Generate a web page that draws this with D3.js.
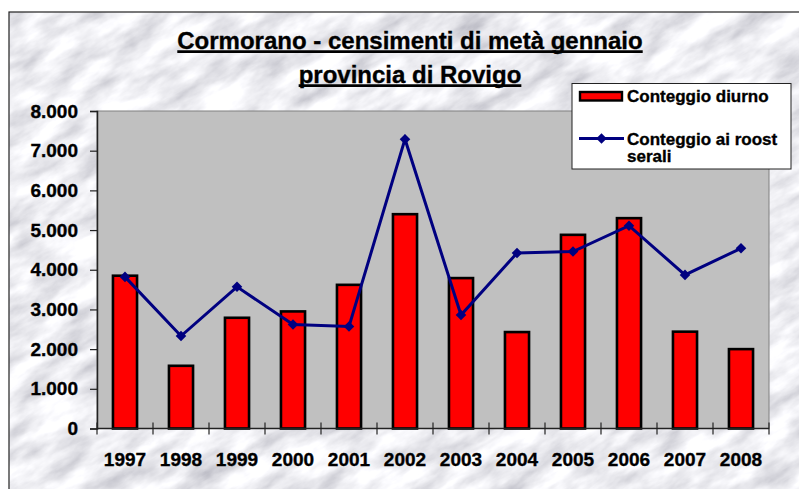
<!DOCTYPE html>
<html>
<head>
<meta charset="utf-8">
<script src="https://cdn.jsdelivr.net/npm/d3@7"></script>
<style>
  html, body { margin: 0; padding: 0; background: #fff; }
  svg { display: block; font-family: Arial, "Liberation Sans", sans-serif; }
  svg text { stroke: #000; stroke-width: 0.35px; }
</style>
</head>
<body>
<script>
var width = 799
var height = 489

// data
var years = ['1997', '1998', '1999', '2000', '2001', '2002', '2003', '2004', '2005', '2006', '2007', '2008']
var diurno = [3850, 1580, 2790, 2950, 3620, 5400, 3790, 2430, 4880, 5300, 2440, 2000]
var roost = [3820, 2330, 3570, 2620, 2570, 7290, 2860, 4420, 4460, 5110, 3870, 4540]
var yTicks = [0, 1000, 2000, 3000, 4000, 5000, 6000, 7000, 8000]
var titleLines = ['Cormorano - censimenti di metà gennaio', 'provincia di Rovigo']
var legendLabels = ['Conteggio diurno', 'Conteggio ai roost', 'serali']

var it = d3.formatLocale({ decimal: ',', thousands: '.', grouping: [3], currency: ['', ' €'] })
var fmt = it.format(',d')

var svg = d3.select('body').append('svg').attr('width', width).attr('height', height)

// marble background
var defs = svg.append('defs')
var filter = defs.append('filter')
    .attr('id', 'marble')
    .attr('filterUnits', 'userSpaceOnUse')
    .attr('x', -600).attr('y', -600).attr('width', 2000).attr('height', 2000)
filter.append('feTurbulence')
    .attr('type', 'fractalNoise')
    .attr('baseFrequency', '0.02 0.05')
    .attr('numOctaves', 5)
    .attr('seed', 11)
filter.append('feColorMatrix')
    .attr('type', 'matrix')
    .attr('values', '-0.8 0 0 0 1.26  -0.8 0 0 0 1.26  -0.75 0 0 0 1.27  0 0 0 0 1')

defs.append('clipPath').attr('id', 'chartClip')
    .append('rect').attr('x', 9).attr('y', 12).attr('width', width).attr('height', height)

svg.append('g')
    .attr('clip-path', 'url(#chartClip)')
    .append('g')
    .attr('transform', 'rotate(-30 400 250)')
    .append('rect')
    .attr('x', -400).attr('y', -400).attr('width', 1600).attr('height', 1300)
    .attr('filter', 'url(#marble)')

svg.append('rect')
    .attr('x', 9).attr('y', 12).attr('width', width).attr('height', height)
    .attr('fill', 'none').attr('stroke', '#222').attr('stroke-width', 1.2)

// scales
var x = d3.scaleBand().domain(years).range([97, 769]).paddingInner(0).paddingOuter(0)
var y = d3.scaleLinear().domain([0, 8000]).range([428.5, 111])
var barW = x.bandwidth() * 0.43

// plot area
svg.append('rect')
    .attr('x', x.range()[0]).attr('y', y(8000))
    .attr('width', x.range()[1] - x.range()[0]).attr('height', y(0) - y(8000))
    .attr('fill', '#c0c0c0').attr('stroke', '#808080').attr('stroke-width', 1)

// y axis
var yAxis = svg.append('g')
    .attr('transform', 'translate(' + x.range()[0] + ',0)')
    .call(d3.axisLeft(y).tickValues(yTicks).tickFormat(fmt).tickSize(7).tickPadding(12))
yAxis.select('.domain').attr('stroke', '#222').attr('stroke-width', 1.5)
yAxis.selectAll('.tick line').attr('stroke', '#222').attr('stroke-width', 1.2)
yAxis.selectAll('.tick text')
    .attr('fill', '#000').attr('font-size', 19).attr('font-weight', 'bold')
    .attr('font-family', 'Arial, "Liberation Sans", sans-serif')

// bars
svg.append('g').selectAll('rect')
    .data(diurno)
    .enter()
    .append('rect')
    .attr('x', function (d, i) { return x(years[i]) + (x.bandwidth() - barW) / 2 })
    .attr('y', function (d) { return y(d) })
    .attr('width', barW)
    .attr('height', function (d) { return y(0) - y(d) })
    .attr('fill', '#ff0000')
    .attr('stroke', '#000')
    .attr('stroke-width', 2.6)

// x axis line and crossing ticks at category boundaries
svg.append('line')
    .attr('x1', x.range()[0]).attr('x2', x.range()[1])
    .attr('y1', y(0)).attr('y2', y(0))
    .attr('stroke', '#222').attr('stroke-width', 1.5)
var bounds = years.map(function (d) { return x(d) }).concat([x.range()[1]])
svg.append('g').selectAll('line')
    .data(bounds)
    .enter()
    .append('line')
    .attr('x1', function (d) { return d }).attr('x2', function (d) { return d })
    .attr('y1', y(0) - 6).attr('y2', y(0) + 6)
    .attr('stroke', '#222').attr('stroke-width', 1.2)

svg.append('g').selectAll('text')
    .data(years)
    .enter()
    .append('text')
    .attr('x', function (d) { return x(d) + x.bandwidth() / 2 })
    .attr('y', 466)
    .attr('text-anchor', 'middle')
    .attr('font-size', 19).attr('font-weight', 'bold')
    .text(function (d) { return d })

// line series
var line = d3.line()
    .x(function (d, i) { return x(years[i]) + x.bandwidth() / 2 })
    .y(function (d) { return y(d) })

svg.append('path')
    .datum(roost)
    .attr('d', line)
    .attr('fill', 'none')
    .attr('stroke', '#000080')
    .attr('stroke-width', 3)

var diamond = d3.symbol().type(d3.symbolSquare).size(56)
svg.append('g').selectAll('path')
    .data(roost)
    .enter()
    .append('path')
    .attr('d', diamond)
    .attr('transform', function (d, i) {
        return 'translate(' + (x(years[i]) + x.bandwidth() / 2) + ',' + y(d) + ') rotate(45)'
    })
    .attr('fill', '#000080')

// title
var title = svg.append('g')
var baselines = [49, 83]
titleLines.forEach(function (t, i) {
    var txt = title.append('text')
        .attr('x', 410).attr('y', baselines[i])
        .attr('text-anchor', 'middle')
        .attr('font-size', 24).attr('font-weight', 'bold')
        .text(t)
    var w = txt.node().getComputedTextLength()
    title.append('line')
        .attr('x1', 410 - w / 2).attr('x2', 410 + w / 2)
        .attr('y1', baselines[i] + 2.6).attr('y2', baselines[i] + 2.6)
        .attr('stroke', '#000').attr('stroke-width', 2.7)
})

// legend
var legend = svg.append('g')
legend.append('rect')
    .attr('x', 572).attr('y', 83.5).attr('width', 219).attr('height', 85.5)
    .attr('fill', '#fff').attr('stroke', '#222').attr('stroke-width', 1)
legend.append('rect')
    .attr('x', 580).attr('y', 92).attr('width', 42).attr('height', 8.5)
    .attr('fill', '#ff0000').attr('stroke', '#000').attr('stroke-width', 2.4)
legend.append('line')
    .attr('x1', 579).attr('x2', 624).attr('y1', 138.5).attr('y2', 138.5)
    .attr('stroke', '#000080').attr('stroke-width', 3)
legend.append('path')
    .attr('d', diamond)
    .attr('transform', 'translate(601.5,138.5) rotate(45)')
    .attr('fill', '#000080')
var legendY = [102, 144.5, 162]
legendLabels.forEach(function (t, i) {
    legend.append('text')
        .attr('x', 627).attr('y', legendY[i])
        .attr('font-size', 17).attr('font-weight', 'bold')
        .text(t)
})
</script>
</body>
</html>
